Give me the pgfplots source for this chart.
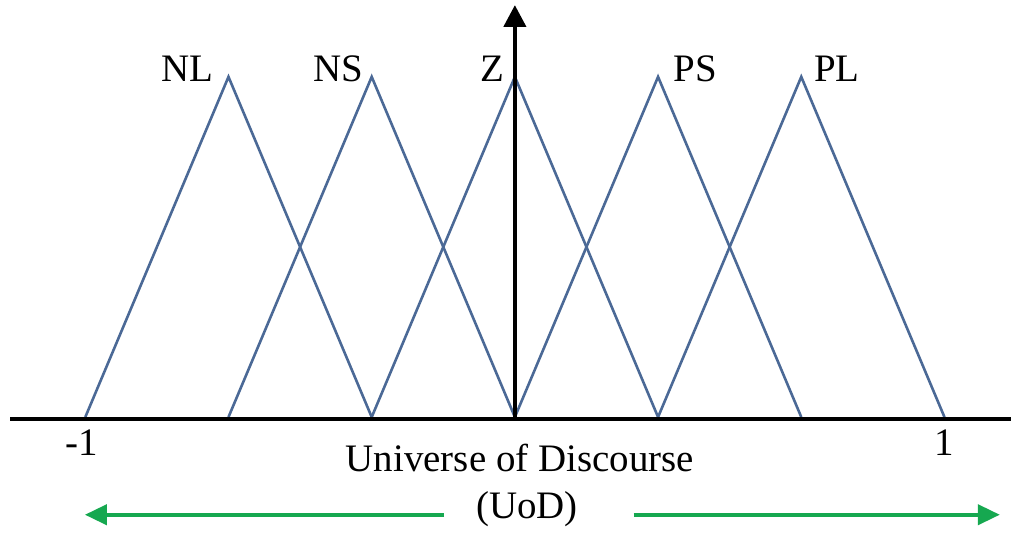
\documentclass[border=0pt]{standalone}
\usepackage{pgfplots}
\pgfplotsset{compat=1.18}
\usepackage{fontspec}
\setmainfont{Liberation Serif}
\usetikzlibrary{arrows.meta}
\definecolor{mfblue}{RGB}{75,105,150}
\definecolor{uodgreen}{RGB}{22,168,80}
\begin{document}
\begin{tikzpicture}
\begin{axis}[
  scale only axis,
  width=506.5pt, height=270pt,
  xmin=-1.1986, xmax=1.1545,
  ymin=-0.3578, ymax=1.2258,
  hide axis,
  clip=false,
]
\path (rel axis cs:0,0) rectangle (rel axis cs:1,1);
\addplot[mfblue, line width=1.3pt, mark=none] coordinates {(-1,0) (-0.6667,1) (-0.3333,0)};
\addplot[mfblue, line width=1.3pt, mark=none] coordinates {(-0.6667,0) (-0.3333,1) (0,0)};
\addplot[mfblue, line width=1.3pt, mark=none] coordinates {(-0.3333,0) (0,1) (0.3333,0)};
\addplot[mfblue, line width=1.3pt, mark=none] coordinates {(0,0) (0.3333,1) (0.6667,0)};
\addplot[mfblue, line width=1.3pt, mark=none] coordinates {(0.3333,0) (0.6667,1) (1,0)};
% axes
\draw[black, line width=2.2pt] (axis cs:-1.175,-0.006) -- (axis cs:1.1545,-0.006);
\draw[black, line width=2.2pt, -{Triangle[length=11pt,width=11pt]}] (axis cs:0,-0.006) -- (axis cs:0,1.211);
% labels
\begin{scope}[font=\fontsize{19.5}{22}\selectfont]
\node[anchor=base] at (axis cs:-0.763,0.985) {NL};
\node[anchor=base] at (axis cs:-0.411,0.985) {NS};
\node[anchor=base] at (axis cs:-0.0534,0.985) {Z};
\node[anchor=base] at (axis cs:0.420,0.985) {PS};
\node[anchor=base] at (axis cs:0.750,0.985) {PL};
\node[anchor=base] at (axis cs:-1.008,-0.114) {-1};
\node[anchor=base] at (axis cs:0.999,-0.114) {1};
\node[anchor=base] at (axis cs:0.0116,-0.161) {Universe of Discourse};
\node[anchor=base] at (axis cs:0.0279,-0.299) {(UoD)};
\end{scope}
% green arrows
\draw[uodgreen, line width=2pt, -{Triangle[length=11pt,width=10pt]}] (axis cs:-0.165,-0.287) -- (axis cs:-1.001,-0.287);
\draw[uodgreen, line width=2pt, -{Triangle[length=11pt,width=10pt]}] (axis cs:0.2764,-0.287) -- (axis cs:1.129,-0.287);
\end{axis}
\end{tikzpicture}
\end{document}
